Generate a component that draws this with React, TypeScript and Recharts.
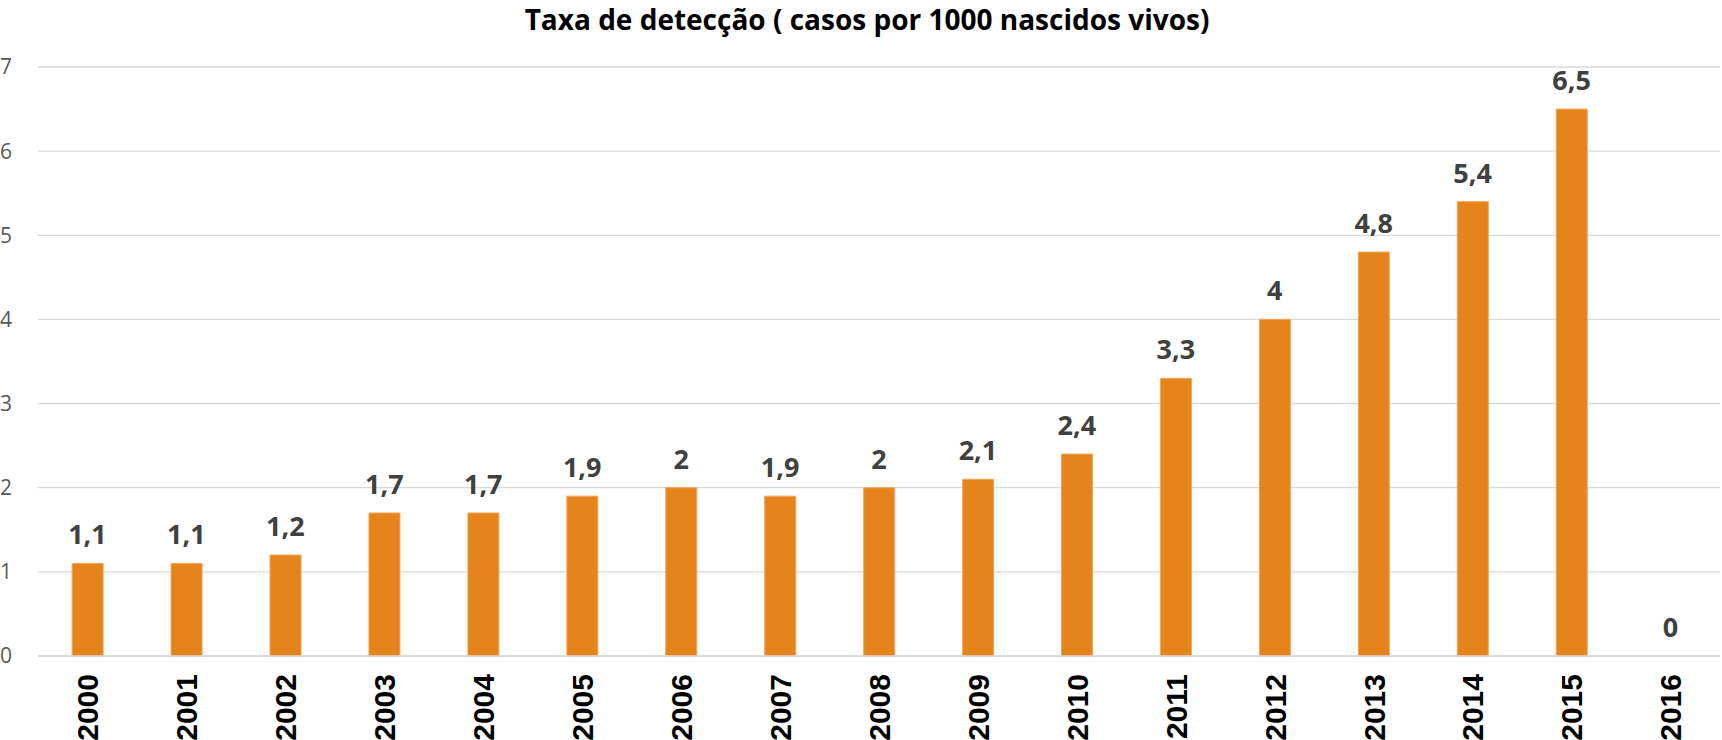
import { ComposedChart, Bar, Line, XAxis, YAxis, CartesianGrid, LabelList } from "recharts";

const years = [
  "2000", "2001", "2002", "2003", "2004", "2005", "2006", "2007", "2008",
  "2009", "2010", "2011", "2012", "2013", "2014", "2015", "2016",
];
const taxa = [1.1, 1.1, 1.2, 1.7, 1.7, 1.9, 2, 1.9, 2, 2.1, 2.4, 3.3, 4, 4.8, 5.4, 6.5, 0];
const yTicks = [0, 1, 2, 3, 4, 5, 6, 7];

const data = years.map((ano, i) => ({ ano, taxa: taxa[i] }));

const ORANGE = "#E5841A";

const YearTick = (props: any) => {
  const { x, y, payload } = props;
  return (
    <text
      x={x}
      y={y}
      transform={`rotate(-90, ${x}, ${y})`}
      textAnchor="end"
      dy="0.36em"
      fontFamily="'Liberation Sans', Arial, sans-serif"
      fontWeight="bold"
      fontSize={30}
      fill="#000"
    >
      {payload.value}
    </text>
  );
};

export default function App() {
  return (
    <div style={{ position: "absolute", left: 0, top: 0, width: 1722, height: 740, background: "#fff" }}>
      <div
        style={{
          position: "absolute",
          left: 0,
          width: 1734,
          top: 0,
          textAlign: "center",
          fontFamily: "'Open Sans', sans-serif",
          fontWeight: 700,
          fontSize: 28,
          color: "#000",
        }}
      >
        Taxa de detecção ( casos por 1000 nascidos vivos)
      </div>
      <ComposedChart
        width={1722}
        height={740}
        data={data}
        margin={{ top: 67, right: 2, bottom: 0, left: 0 }}
        barCategoryGap="34.5%"
      >
        <CartesianGrid vertical={false} stroke="#D9D9D9" strokeWidth={1.3} />
        <XAxis
          dataKey="ano"
          height={84}
          tickLine={false}
          axisLine={{ stroke: "#D9D9D9", strokeWidth: 1.3 }}
          interval={0}
          tick={<YearTick />}
          tickMargin={12}
        />
        <YAxis
          width={38}
          domain={[0, 7]}
          ticks={yTicks}
          axisLine={false}
          tickLine={false}
          tickMargin={20}
          tick={{ fontFamily: "'Open Sans', sans-serif", fontSize: 21, fill: "#595959" }}
        />
        <Bar dataKey="taxa" fill={ORANGE} stroke="#F2A65A" strokeWidth={1} isAnimationActive={false} />
        <Line dataKey="taxa" stroke="none" dot={false} activeDot={false} isAnimationActive={false}>
          <LabelList
            dataKey="taxa"
            position="top"
            offset={19}
            formatter={(v: any) => String(v).replace(".", ",")}
            style={{ fontFamily: "'Open Sans', sans-serif", fontWeight: 700, fontSize: 27, fill: "#404040" }}
          />
        </Line>
      </ComposedChart>
    </div>
  );
}
